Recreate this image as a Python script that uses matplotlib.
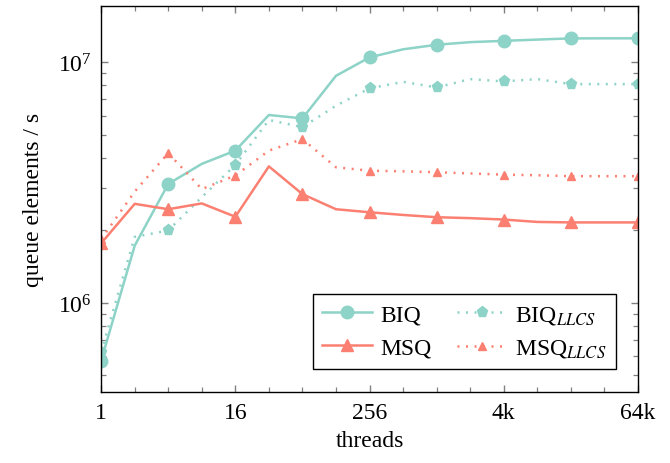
import matplotlib
matplotlib.use('Agg')
from matplotlib import pyplot as plt
from matplotlib.ticker import FixedLocator, NullFormatter

plt.rcParams['font.family'] = ['Liberation Serif', 'DejaVu Serif']
plt.rcParams['mathtext.fontset'] = 'stix'

threads = [1, 2, 4, 8, 16, 32, 64, 128, 256, 512, 1024, 2048, 4096, 8192,
           16384, 32768, 65536]
biq = [5.77e5, 1.73e6, 3.12e6, 3.78e6, 4.29e6, 6.03e6, 5.84e6, 8.77e6, 1.046e7,
       1.13e7, 1.18e7, 1.21e7, 1.225e7, 1.24e7, 1.254e7, 1.255e7, 1.255e7]
biq_llcs = [6.27e5, 1.88e6, 2.0e6, 2.75e6, 3.74e6, 5.75e6, 5.37e6, 6.59e6, 7.78e6,
            8.28e6, 7.85e6, 8.5e6, 8.31e6, 8.5e6, 8.1e6, 8.1e6, 8.1e6]
msq = [1.77e6, 2.58e6, 2.45e6, 2.59e6, 2.28e6, 3.69e6, 2.83e6, 2.45e6, 2.38e6,
       2.32e6, 2.27e6, 2.25e6, 2.22e6, 2.17e6, 2.16e6, 2.16e6, 2.16e6]
msq_llcs = [1.84e6, 2.9e6, 4.19e6, 2.97e6, 3.38e6, 4.29e6, 4.79e6, 3.66e6, 3.54e6,
            3.52e6, 3.49e6, 3.45e6, 3.41e6, 3.39e6, 3.36e6, 3.36e6, 3.36e6]
tick_pos = [1, 16, 256, 4096, 65536]
tick_labels = ['1', '16', '256', '4k', '64k']

teal = '#8dd3c7'
salmon = '#fb8072'

fig = plt.figure(figsize=(6.7, 4.64), dpi=100)
ax = fig.add_axes([0.151, 0.153, 0.801, 0.832])

ax.plot(threads, biq, color=teal, lw=1.8, marker='o', markersize=9,
        markevery=2, label='BIQ')
ax.plot(threads, biq_llcs, color=teal, lw=1.8, ls=(0, (0.8, 2.6)), marker='p',
        markersize=8, markevery=2, label=r'BIQ$_{LLCS}$')
ax.plot(threads, msq, color=salmon, lw=1.8, marker='^', markersize=8.5,
        markevery=2, label='MSQ')
ax.plot(threads, msq_llcs, color=salmon, lw=1.8, ls=(0, (0.8, 2.6)), marker='^',
        markersize=6, markevery=2, label=r'MSQ$_{LLCS}$')

ax.set_xscale('log', base=2)
ax.set_yscale('log')
ax.set_xlim(1, 65536)
ax.set_ylim(4.27e5, 1.71e7)
ax.xaxis.set_major_locator(FixedLocator(tick_pos))
ax.set_xticklabels(tick_labels)
ax.xaxis.set_minor_locator(FixedLocator(threads))
ax.xaxis.set_minor_formatter(NullFormatter())
ax.yaxis.set_minor_formatter(NullFormatter())

ax.tick_params(which='both', direction='in', top=True, right=True,
               color='#808080', labelsize=17)
ax.tick_params(which='major', length=5, width=1, pad=7)
ax.tick_params(which='minor', length=3.5, width=0.9)
for s in ax.spines.values():
    s.set_linewidth(1.0)

ax.set_xlabel('threads', fontsize=17, labelpad=5)
ax.set_ylabel('queue elements / s', fontsize=17, labelpad=10)

h, l = ax.get_legend_handles_labels()
order = [0, 2, 1, 3]
ax.legend([h[i] for i in order], [l[i] for i in order], ncol=2,
          loc='lower right', bbox_to_anchor=(0.959, 0.06), borderaxespad=0,
          fontsize=17, frameon=True, fancybox=False, edgecolor='black',
          framealpha=1, handlelength=2.1, columnspacing=1.1,
          handletextpad=0.35, borderpad=0.4, labelspacing=0.5)

plt.savefig('out.png', dpi=100)
